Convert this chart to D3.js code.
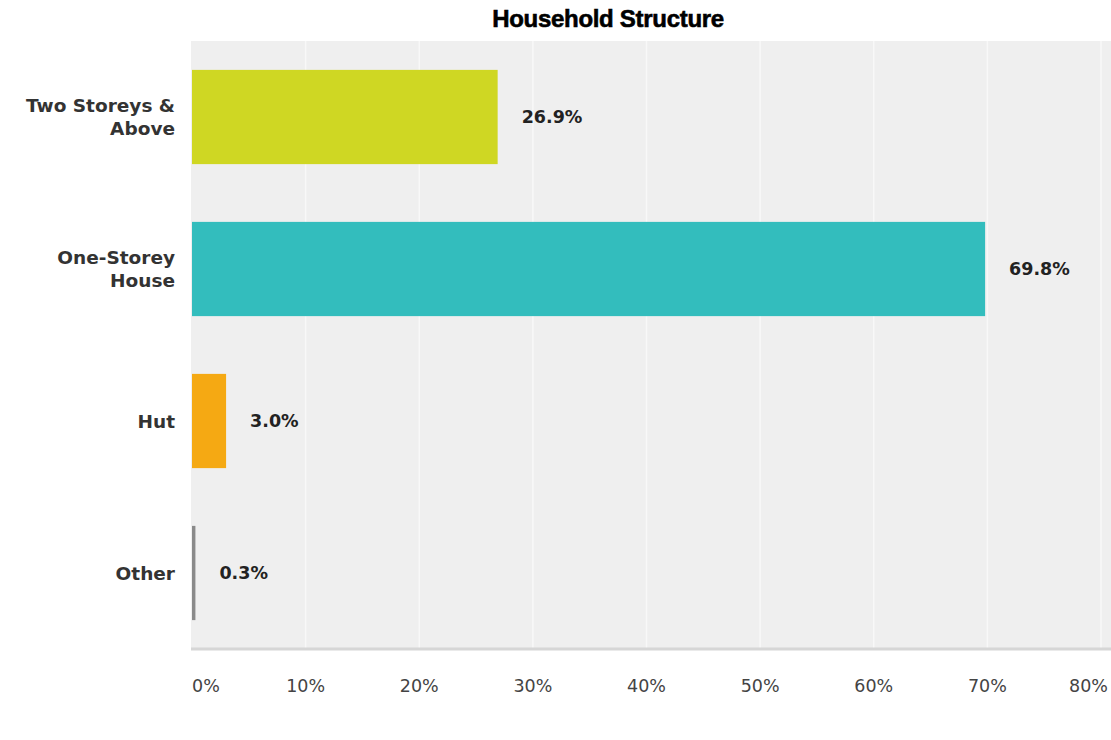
<!DOCTYPE html>
<html>
<head>
<meta charset="utf-8">
<script src="https://cdn.jsdelivr.net/npm/d3@7/dist/d3.min.js"></script>
<style>
  html, body { margin: 0; padding: 0; background: #ffffff; }
  svg { display: block; }
  text { font-family: "DejaVu Sans", Verdana, sans-serif; }
</style>
</head>
<body>
<svg id="chart" width="1111" height="740"></svg>
<script>
// ---- data ----
const title = "Household Structure";
const categories = ["Two Storeys & Above", "One-Storey House", "Hut", "Other"];
const categoryLines = [["Two Storeys &", "Above"], ["One-Storey", "House"], ["Hut"], ["Other"]];
const values = [26.9, 69.8, 3.0, 0.3];
const valueLabels = ["26.9%", "69.8%", "3.0%", "0.3%"];
const tickValues = [0, 10, 20, 30, 40, 50, 60, 70, 80];
const tickLabels = ["0%", "10%", "20%", "30%", "40%", "50%", "60%", "70%", "80%"];
const barColors = ["#cfd723", "#33bdbd", "#f5a913", "#8a8a8a"];

// ---- layout ----
const W = 1111, H = 740;
const plot = { left: 191, right: 1111, top: 41, bottom: 649 };

const svg = d3.select("#chart");

const x = d3.scaleLinear().domain([0, 80]).range([192, 1101]);
const y = d3.scaleBand()
  .domain(categories)
  .range([plot.top, plot.bottom])
  .paddingInner(0.38)
  .paddingOuter(0.19);

// title
svg.append("text")
  .attr("x", 608).attr("y", 27)
  .attr("text-anchor", "middle")
  .style("font-family", "'Liberation Sans', Arial, sans-serif")
  .attr("font-size", 24).attr("font-weight", "bold")
  .attr("letter-spacing", -0.3)
  .attr("fill", "#000")
  .attr("stroke", "#000").attr("stroke-width", 0.6)
  .text(title);

// plot background
svg.append("rect")
  .attr("x", plot.left).attr("y", plot.top)
  .attr("width", plot.right - plot.left).attr("height", plot.bottom - plot.top)
  .attr("fill", "#efefef");

// gridlines
svg.append("g")
  .selectAll("line")
  .data(tickValues.slice(1))
  .join("line")
  .attr("x1", d => x(d)).attr("x2", d => x(d))
  .attr("y1", plot.top).attr("y2", plot.bottom)
  .attr("stroke", "#f8f8f8").attr("stroke-width", 1.5);

// baseline
svg.append("line")
  .attr("x1", plot.left).attr("x2", plot.right)
  .attr("y1", plot.bottom).attr("y2", plot.bottom)
  .attr("stroke", "#d6d6d6").attr("stroke-width", 3);

// bars
svg.append("g")
  .selectAll("rect")
  .data(categories)
  .join("rect")
  .attr("x", x(0))
  .attr("y", d => y(d))
  .attr("width", (d, i) => Math.max(2, x(values[i]) - x(0)))
  .attr("height", y.bandwidth())
  .attr("fill", (d, i) => barColors[i]);

// value labels
svg.append("g")
  .selectAll("text")
  .data(categories)
  .join("text")
  .attr("x", (d, i) => Math.max(x(values[i]), x(0) + 2) + 24)
  .attr("y", d => y(d) + y.bandwidth() / 2)
  .attr("dy", "0.36em")
  .attr("font-size", 17.5).attr("font-weight", "bold")
  .attr("fill", "#222")
  .text((d, i) => valueLabels[i]);

// category labels
const catG = svg.append("g");
categories.forEach((c, i) => {
  const lines = categoryLines[i];
  const cy = y(c) + y.bandwidth() / 2;
  const lh = 23;
  const t = catG.append("text")
    .attr("text-anchor", "end")
    .attr("font-size", 18.5).attr("font-weight", "bold")
    .attr("fill", "#333");
  lines.forEach((ln, j) => {
    t.append("tspan")
      .attr("x", 175)
      .attr("y", cy + (j - (lines.length - 1) / 2) * lh)
      .attr("dy", "0.36em")
      .text(ln);
  });
});

// x axis tick labels
const axisG = svg.append("g");
tickValues.forEach((v, i) => {
  const t = axisG.append("text")
    .attr("y", 692)
    .attr("font-size", 17.5)
    .attr("fill", "#444")
    .attr("text-anchor", "middle")
    .text(tickLabels[i]);
  const w = t.node().getComputedTextLength();
  const cx = Math.min(x(v) + (v === 0 ? 14 : 0), W - w / 2 - 3);
  t.attr("x", cx);
});
</script>
</body>
</html>
